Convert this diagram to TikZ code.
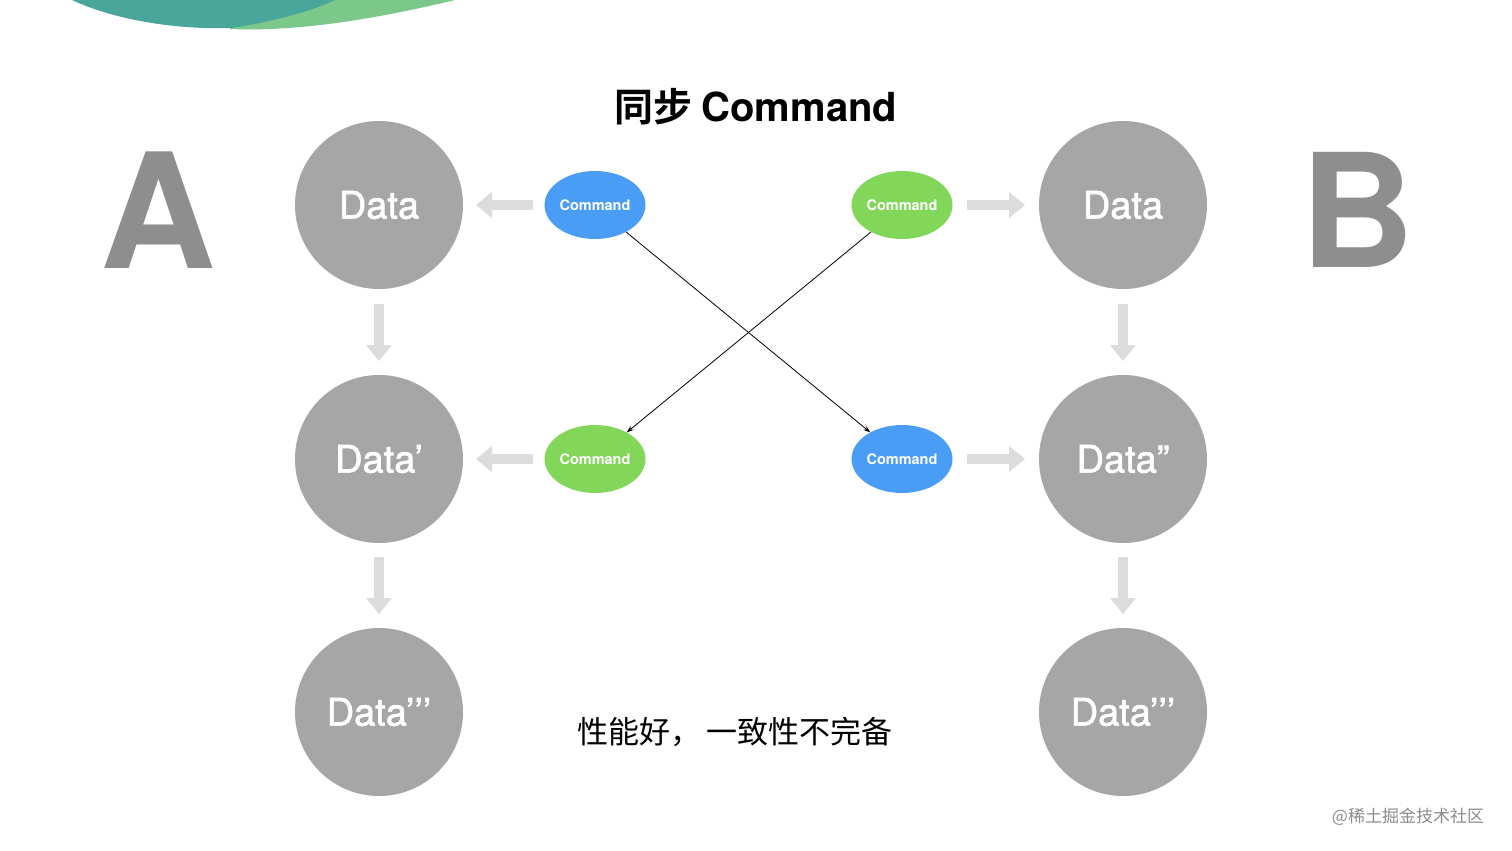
\documentclass[tikz,border=0pt]{standalone}
\usepackage{fontspec}
\setmainfont{TeX Gyre Heros}
\newfontfamily\datafont[FakeBold=1.6]{TeX Gyre Heros}
\newfontfamily\cjk{Noto Sans CJK SC}
\newfontfamily\cjkb{Noto Sans CJK SC Bold}
\usetikzlibrary{arrows.meta,shapes.geometric}
\definecolor{circ}{HTML}{A6A6A6}
\definecolor{bigletter}{HTML}{8E8E8E}
\definecolor{cblue}{HTML}{4A9DF4}
\definecolor{cgreen}{HTML}{82D65A}
\definecolor{blockarrow}{HTML}{DCDCDC}
\definecolor{teal}{HTML}{4AA59B}
\definecolor{lgreen}{HTML}{7CC88A}
\tikzset{
  datanode/.style={circle,fill=circ,minimum size=168pt,inner sep=0pt,text=white,font=\datafont\fontsize{38}{40}\selectfont},
  cmd/.style={ellipse,minimum width=101pt,minimum height=68pt,inner sep=0pt,text=white,font=\bfseries\fontsize{14.5}{16}\selectfont},
  blk/.style={-{Triangle[length=16pt,width=25pt]},line width=10pt,draw=blockarrow},
  link/.style={-{Stealth[length=7pt,width=5pt]},line width=0.8pt,black}
}
\begin{document}
\begin{tikzpicture}[x=1pt,y=-1pt]
\useasboundingbox (0,0) rectangle (1512,851);
\fill[white] (0,0) rectangle (1512,851);
% top-left decoration
\fill[lgreen] (230,0) -- (455,0) .. controls (380,18) and (300,32) .. (230,29) -- cycle;
\fill[teal] (72,0) -- (335,0) .. controls (310,12) and (270,22) .. (232,28) .. controls (170,30) and (110,18) .. (72,0) -- cycle;
% title
\node (title) at (756,107) {\cjkb\fontsize{39}{42}\selectfont 同步 {\rmfamily\bfseries\fontsize{40}{42}\selectfont Command}};
% big letters
\node[text=bigletter,font=\bfseries\fontsize{160}{160}\selectfont] (A) at (158,210) {A};
\node[text=bigletter,font=\bfseries\fontsize{158}{160}\selectfont] (B) at (1358,210) {B};
% data circles
\node[datanode] (a1) at (379,205) {Data};
\node[datanode] (a2) at (379,459) {Data’};
\node[datanode] (a3) at (379,712) {Data’’’};
\node[datanode] (b1) at (1123,205) {Data};
\node[datanode] (b2) at (1123,459) {Data”};
\node[datanode] (b3) at (1123,712) {Data’’’};
% commands
\node[cmd,fill=cblue] (ca1) at (595,205) {Command};
\node[cmd,fill=cgreen] (ca2) at (595,459) {Command};
\node[cmd,fill=cgreen] (cb1) at (902,205) {Command};
\node[cmd,fill=cblue] (cb2) at (902,459) {Command};
% block arrows
\coordinate (l1s) at (533,205); \coordinate (l1e) at (476,205);
\coordinate (l2s) at (533,459); \coordinate (l2e) at (476,459);
\coordinate (r1s) at (967,205); \coordinate (r1e) at (1025,205);
\coordinate (r2s) at (967,459); \coordinate (r2e) at (1025,459);
\coordinate (d1s) at (379,304); \coordinate (d1e) at (379,361);
\coordinate (d2s) at (379,557); \coordinate (d2e) at (379,614);
\coordinate (d3s) at (1123,304); \coordinate (d3e) at (1123,361);
\coordinate (d4s) at (1123,557); \coordinate (d4e) at (1123,614);
\foreach \s/\e in {l1s/l1e,l2s/l2e,r1s/r1e,r2s/r2e,d1s/d1e,d2s/d2e,d3s/d3e,d4s/d4e}
  \draw[blk] (\s) -- (\e);
% crossing links
\draw[link] (ca1.-41) -- (cb2.140);
\draw[link] (cb1.-139) -- (ca2.40);
% bottom text
\node (note) at (735,732) {\cjk\fontsize{31}{32}\selectfont 性能好，\hspace{6pt}一致性不完备};
\node[text=black!45] (wm) at (1408,817) {\cjk\fontsize{17}{18}\selectfont @稀土掘金技术社区};
\end{tikzpicture}
\end{document}
